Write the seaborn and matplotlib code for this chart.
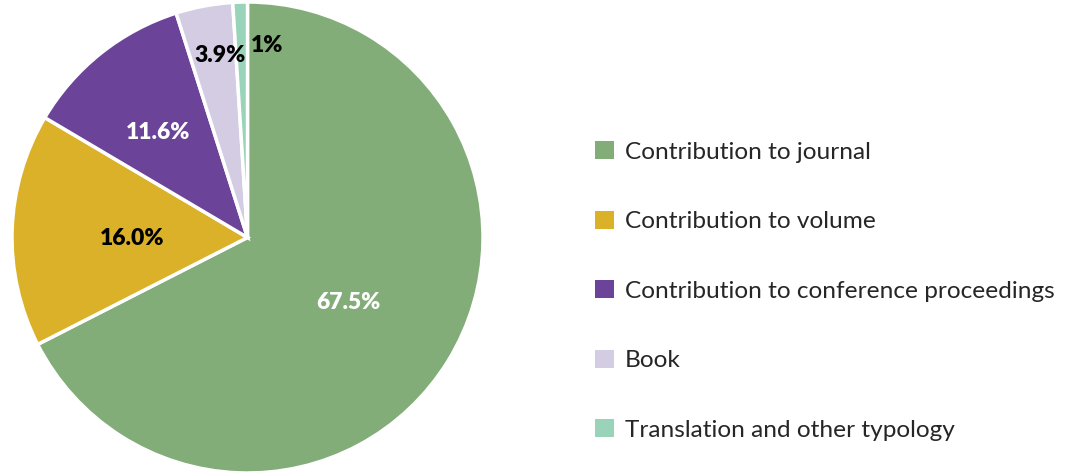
import numpy as np
import matplotlib
matplotlib.use("Agg")
import matplotlib.pyplot as plt
import seaborn as sns
from matplotlib.patches import Patch

categories = [
    "Contribution to journal",
    "Contribution to volume",
    "Contribution to conference proceedings",
    "Book",
    "Translation and other typology",
]
shares = [67.5, 16.0, 11.6, 3.9, 1.0]
share_labels = ["67.5%", "16.0%", "11.6%", "3.9%", "1%"]
colors = ["#82ad78", "#dcb12a", "#6b4499", "#d3cce3", "#99d3ba"]
label_colors = ["white", "black", "white", "black", "black"]

sns.set_theme(style="white")
plt.rcParams["font.family"] = ["Lato", "DejaVu Sans"]

W, H = 1072, 473
fig = plt.figure(figsize=(W / 100, H / 100), dpi=100)
ax = fig.add_axes([12 / W, 0, 471 / W, 471 / H])

wedges, _ = ax.pie(
    shares,
    colors=colors,
    startangle=90,
    counterclock=False,
    radius=1.0,
    wedgeprops=dict(edgecolor="white", linewidth=2.5),
)
ax.set_xlim(-1.0, 1.0)
ax.set_ylim(-1.0, 1.0)
ax.set_aspect("equal")

# per-slice label radius and angular nudge (degrees)
label_r = [0.51, 0.49, 0.585, 0.78, 0.82]
label_dtheta = [-1.5, 2.5, 2.0, -2.0, -7.5]
for w, txt, c, r, dt in zip(wedges, share_labels, label_colors, label_r, label_dtheta):
    mid = np.deg2rad((w.theta1 + w.theta2) / 2 + dt)
    ax.text(r * np.cos(mid), r * np.sin(mid), txt, ha="center", va="center",
            color=c, fontsize=16.5, fontweight="heavy")

handles = [Patch(facecolor=c, edgecolor="none") for c in colors]
fig.legend(
    handles, categories,
    loc="center left",
    bbox_to_anchor=(573 / W, 1 - 291 / H),
    frameon=False,
    fontsize=17.6,
    handlelength=0.76,
    handleheight=0.76,
    handletextpad=0.45,
    labelspacing=1.96,
)

fig.savefig("out.png", dpi=100)
